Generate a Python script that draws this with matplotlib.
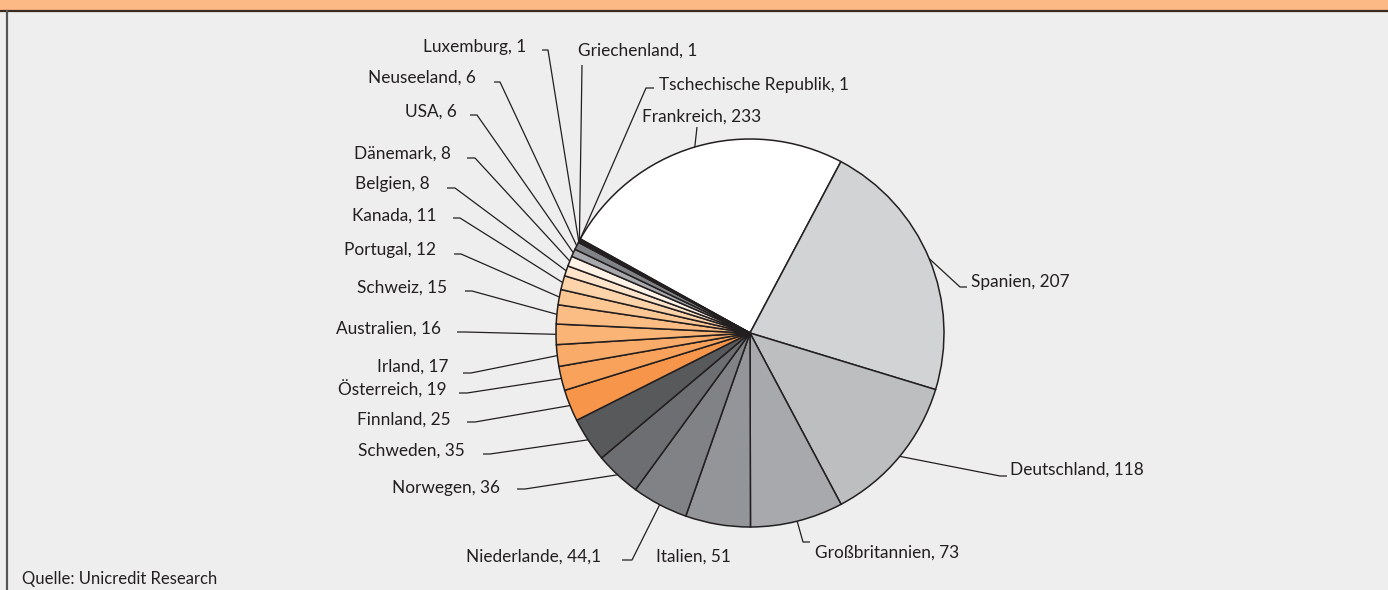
import matplotlib
matplotlib.use('Agg')
import matplotlib.pyplot as plt
from matplotlib import font_manager
import numpy as np

# Daten
laender = ['Frankreich', 'Spanien', 'Deutschland', 'Großbritannien', 'Italien',
           'Niederlande', 'Norwegen', 'Schweden', 'Finnland', 'Österreich',
           'Irland', 'Australien', 'Schweiz', 'Portugal', 'Kanada', 'Belgien',
           'Dänemark', 'USA', 'Neuseeland', 'Luxemburg', 'Griechenland',
           'Tschechische Republik']
werte = [233, 207, 118, 73, 51, 44.1, 36, 35, 25, 19, 17, 16, 15, 12, 11, 8,
         8, 6, 6, 1, 1, 1]
wert_text = ['233', '207', '118', '73', '51', '44,1', '36', '35', '25', '19',
             '17', '16', '15', '12', '11', '8', '8', '6', '6', '1', '1', '1']
farben = ['#ffffff', '#d1d3d4', '#bcbec0', '#a7a9ac', '#939598', '#808285',
          '#6d6e71', '#58595b', '#f7964a', '#f8a25b', '#f9ab69', '#fab475',
          '#fbbd83', '#fcc792', '#fdd3aa', '#fee4ca', '#fff2e6', '#a7a9ac',
          '#808285', '#8b5a2b', '#f7964a', '#58595b']
quelle = 'Quelle: Unicredit Research'

# Layout (Pixel, y von oben): Textposition, Ausrichtung, Knick- und Endpunkt der Linie
text_pos = [(702, 117, 'center'), (971, 282, 'left'), (1010, 470, 'left'),
            (815, 553, 'left'), (693, 557, 'center'), (601, 557, 'right'),
            (500, 488, 'right'), (465, 451, 'right'), (451, 420, 'right'),
            (447, 389, 'right'), (448, 367, 'right'), (441, 329, 'right'),
            (447, 288, 'right'), (436, 250, 'right'), (437, 216, 'right'),
            (430, 184, 'right'), (451, 154, 'right'), (457, 112, 'right'),
            (476, 78, 'right'), (526, 47, 'right'), (578, 51, 'left'),
            (659, 85, 'left')]
knick = [(697, 127), (960, 287), (1000, 476), (803, 542), None, (632, 560),
         (525, 489), (490, 454), (475, 422), (467, 393), (471, 373), (465, 332),
         (472, 291), (461, 254), (460, 218), (455, 188), (475, 158), (477, 115),
         (500, 82), (548, 50), (582, 65), (646, 88)]
ende = [(697, 127), (967, 287), (1007, 476), (810, 542), None, (622, 560),
        (517, 489), (483, 454), (467, 422), (459, 393), (463, 373), (457, 332),
        (465, 291), (454, 254), (453, 218), (447, 188), (467, 158), (470, 115),
        (494, 82), (542, 50), (582, 65), (654, 88)]

W, H = 1388, 590
cx, cy, r = 750, 333, 194
dunkel = '#231f20'

fams = [f.name for f in font_manager.fontManager.ttflist]
schrift = ['Liberation Sans Narrow', 'Lato', 'DejaVu Sans']
schrift = [s for s in schrift if s in fams] or ['DejaVu Sans']
plt.rcParams['font.family'] = schrift

fig = plt.figure(figsize=(W / 100, H / 100), dpi=100)
fig.patch.set_facecolor('#eeeeee')
ax = fig.add_axes([0, 0, 1, 1])
ax.set_facecolor('#eeeeee')


def Y(y):
    return H - y


wedges, _ = ax.pie(werte, colors=farben, startangle=151.0, counterclock=False,
                   center=(cx, Y(cy)), radius=r, frame=True,
                   wedgeprops=dict(edgecolor=dunkel, linewidth=1.1))

ax.set_xlim(0, W)
ax.set_ylim(0, H)
ax.set_aspect('equal')
ax.axis('off')

for i, w in enumerate(wedges):
    tx, ty, ha = text_pos[i]
    ax.text(tx, Y(ty), f'{laender[i]}, {wert_text[i]}', ha=ha, va='center',
            fontsize=12.4, color=dunkel)
    if knick[i] is None:
        continue
    mitte = np.deg2rad((w.theta1 + w.theta2) / 2)
    rx = cx + r * np.cos(mitte)
    ry = Y(cy) + r * np.sin(mitte)
    kx, ky = knick[i]
    ex, ey = ende[i]
    ax.plot([rx, kx, ex], [ry, Y(ky), Y(ey)], color=dunkel, lw=0.9,
            solid_capstyle='butt', zorder=5)

# Kopfleiste und Rahmen
ax.fill_between([0, W], Y(10), H, color='#fdb985', zorder=6)
ax.plot([0, W], [Y(10.5), Y(10.5)], color='#3b2a20', lw=1.6, zorder=7)
ax.plot([7.5, 7.5], [0, Y(10.5)], color='#555555', lw=1.6, zorder=7)

ax.text(22, Y(579), quelle, ha='left', va='center', fontsize=12, color=dunkel)

fig.savefig('out.png', dpi=100, facecolor=fig.get_facecolor())
